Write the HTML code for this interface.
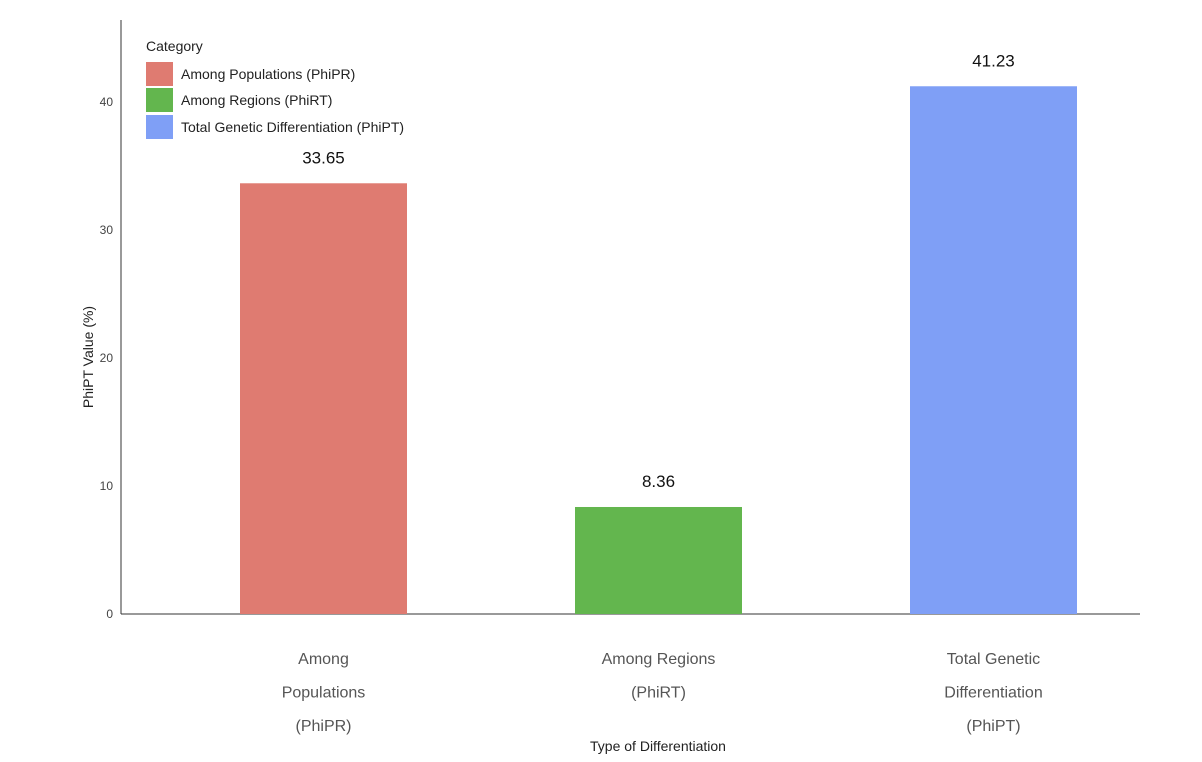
<!DOCTYPE html>
<html><head><meta charset="utf-8"><style>
body{margin:0;background:#fff;}
svg{display:block;font-family:"Liberation Sans",sans-serif;}
</style></head><body>
<svg id="chart" width="1202" height="762">
<g id="axes"></g>
<g id="bars"></g>
<g id="legend">
<text x="146" y="51" font-size="14" fill="#222">Category</text>
<rect x="146" y="62" width="27" height="24" fill="#df7b71"/>
<text x="181" y="79" font-size="14" fill="#222">Among Populations (PhiPR)</text>
<rect x="146" y="88" width="27" height="24" fill="#63b64e"/>
<text x="181" y="105" font-size="14" fill="#222">Among Regions (PhiRT)</text>
<rect x="146" y="115" width="27" height="24" fill="#7f9ff6"/>
<text x="181" y="132" font-size="14" fill="#222">Total Genetic Differentiation (PhiPT)</text>
</g>
<text x="658" y="751" font-size="14" text-anchor="middle" fill="#222">Type of Differentiation</text>
<text transform="translate(93,357) rotate(-90)" font-size="14" text-anchor="middle" fill="#222">PhiPT Value (%)</text>
</svg>
<script>
const categories=[["Among","Populations","(PhiPR)"],["Among Regions","(PhiRT)"],["Total Genetic","Differentiation","(PhiPT)"]];
const values=[33.65,8.36,41.23];
const valueLabels=["33.65","8.36","41.23"];
const colors=["#df7b71","#63b64e","#7f9ff6"];
const yTicks=[0,10,20,30,40];
const NS="http://www.w3.org/2000/svg";
const x0=121,x1=1140,y0=614,pxPerUnit=12.8,band=335,barW=167,firstCenter=323.5;
const y=v=>y0-v*pxPerUnit;
const xc=i=>firstCenter+i*band;
function mk(tag,attrs,parent){const e=document.createElementNS(NS,tag);for(const k in attrs)e.setAttribute(k,attrs[k]);parent.appendChild(e);return e;}
const axes=document.getElementById('axes'),bars=document.getElementById('bars');
yTicks.forEach(t=>{
 const tx=mk('text',{x:113,y:y(t)+4,'font-size':12,'text-anchor':'end',fill:'#444'},axes);
 
 
 tx.textContent=t;
});
const ya=mk('line',{x1:x0,y1:20,x2:x0,y2:y0,stroke:'#333','stroke-width':1},axes);


const xa=mk('line',{x1:x0,y1:y0,x2:x1,y2:y0,stroke:'#333','stroke-width':1},axes);


values.forEach((v,i)=>{
 const r=mk('rect',{x:xc(i)-barW/2,y:y(v),width:barW,height:y0-y(v),fill:colors[i]},bars);
 
 
 const t=mk('text',{x:xc(i),y:y(v)-20,'font-size':17,'text-anchor':'middle',fill:'#111'},bars);
 
 
 t.textContent=valueLabels[i];
 categories[i].forEach((line,j)=>{
  const c=mk('text',{x:xc(i),y:664+j*33.5,'font-size':16,'text-anchor':'middle',fill:'#555'},axes);
  
  
  c.textContent=line;
 });
});
</script>
</body></html>
